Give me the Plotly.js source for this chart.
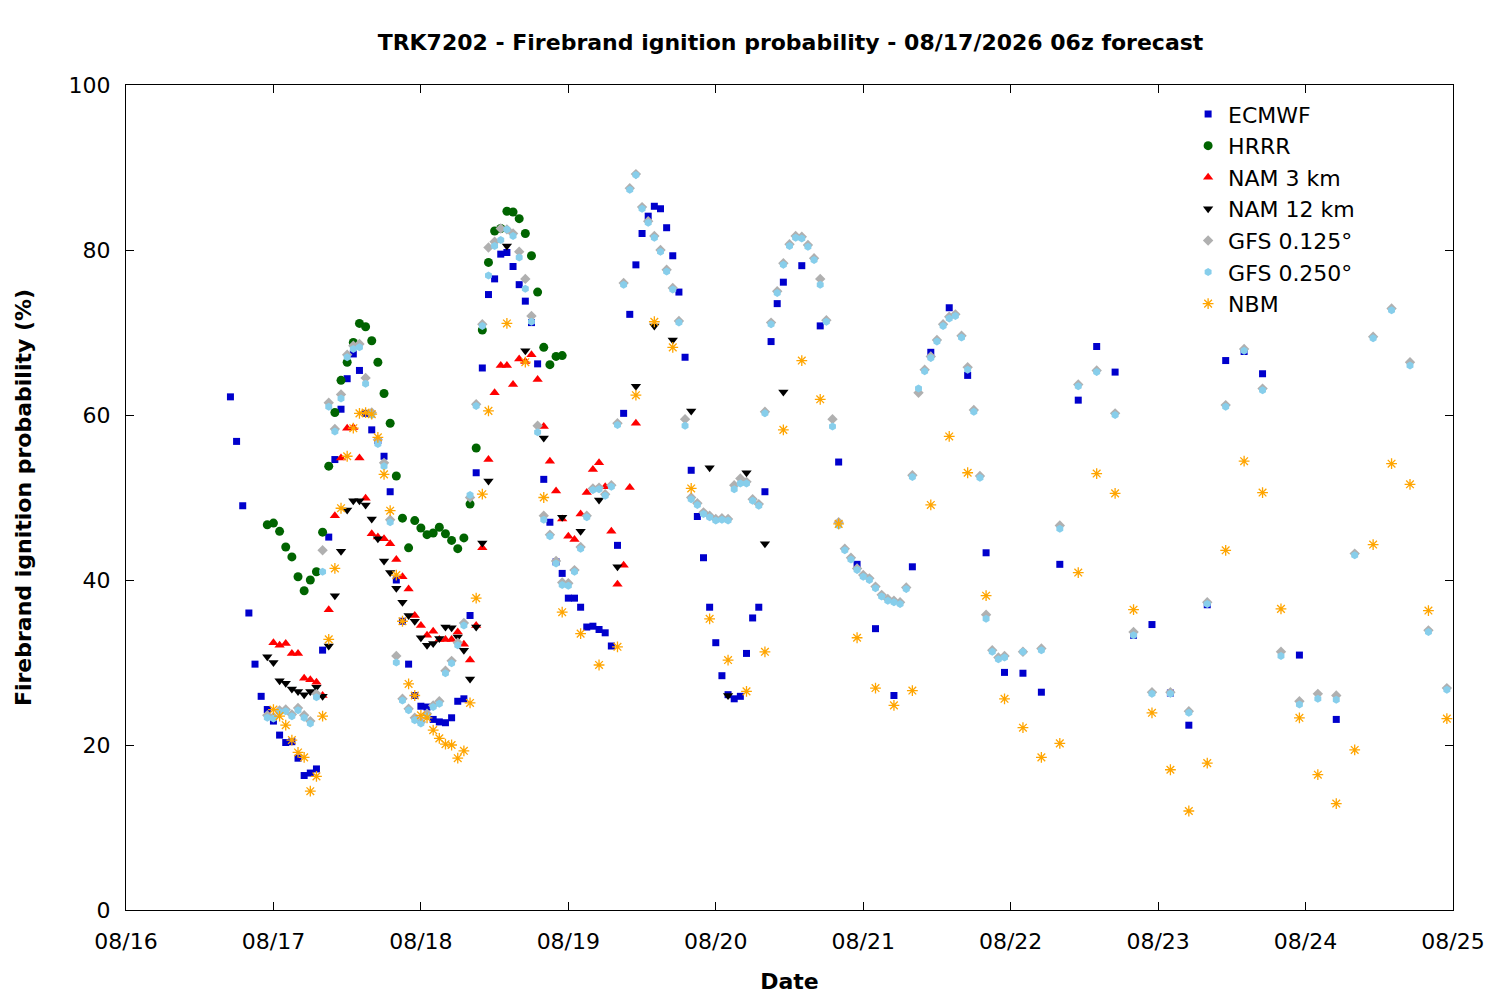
<!DOCTYPE html>
<html>
<head>
    <title>TRK7202 - Firebrand ignition probability</title>
    <script src="https://cdn.plot.ly/plotly-3.0.1.min.js"></script>
    <style>
        body { margin: 0; background: white; }
        #plot { width: 1500px; height: 1000px; }
    </style>
</head>
<body>
    <div id="plot"></div>
    <script>
        function range(a, b, step) {
            const out = [];
            for (let h = a; h <= b; h += step) out.push(h);
            return out;
        }

        // forecast hours, counted from 08/16 00:00
        const ecmwfHours = [...range(17, 107, 1), ...range(110, 185, 3), 191, 197];
        const ecmwfValues = [
            62.2, 56.8, 49, 36, 29.8, 25.9, 24.3, 22.9, 21.2, 20.3, 20.4, 18.4, 16.3, 16.6, 17.1, 31.5,
            45.2, 54.6, 60.7, 64.4, 67.4, 65.4, 60.2, 58.2, 56.9, 55, 50.7, 40, 35, 29.8, 26, 24.7,
            24.6, 23.1, 22.8, 22.7, 23.3, 25.3, 25.6, 35.7, 53, 65.7, 74.6, 76.5, 79.5, 79.7, 78, 75.8,
            73.8, 71.2, 66.2, 52.2, 47, 42.2, 40.8, 37.8, 37.8, 36.7, 34.3, 34.4, 34, 33.6, 32, 44.2,
            60.2, 72.2, 78.2, 82, 84.1, 85.3, 85, 82.7, 79.3, 74.9, 67, 53.3, 47.7, 42.7, 36.7, 32.4,
            28.4, 26.1, 25.6, 25.9, 31.1, 35.4, 36.7, 50.7, 68.9, 73.5, 76.1,
            78.1, 70.8, 54.3, 41.9, 34.1, 26, 41.6, 67.6, 73, 64.8, 43.3, 28.8, 28.7, 26.4, 41.9, 61.8,
            68.3, 65.2, 33.3, 34.6, 26.3, 22.4, 37, 66.6, 67.7, 65,
            30.9, 23.1
        ];

        const hrrrHours = range(23, 71, 1);
        const hrrrValues = [
            46.7, 46.9, 45.9, 44, 42.8, 40.4, 38.7, 40, 41, 45.8, 53.8, 60.3, 64.2, 66.4, 68.8, 71.1,
            70.7, 69, 66.4, 62.6, 59, 52.6, 47.5, 43.9, 47.2, 46.3, 45.5, 45.7, 46.4, 45.6, 44.8, 43.8,
            45.1, 49.2, 56, 70.3, 78.5, 82.3, 82.6, 84.7, 84.6, 83.8, 82, 79.3, 74.9, 68.2, 66.1, 67.1, 67.2
        ];

        const nam3Hours = range(24, 83, 1);
        const nam3Values = [
            32.4, 32.1, 32.3, 31.1, 31.1, 28.1, 27.9, 27.6, 26, 36.4, 47.8, 54.8, 58.4, 58.5, 54.8, 49.9,
            45.6, 45.2, 45, 44.4, 42.5, 40.4, 38.9, 35.7, 34.5, 33.3, 33.8, 32.8, 32.8, 32.8, 33.7, 32.2,
            30.3, 34.5, 43.9, 54.6, 62.7, 66, 66, 63.7, 66.8, 66.5, 67.3, 64.3, 58.6, 54.4, 50.8, 47.4,
            45.3, 44.9, 48, 50.6, 53.4, 54.2, 51.3, 45.9, 39.5, 41.8, 51.2, 59
        ];

        const nam12Hours = [...range(23, 59, 1), ...range(62, 107, 3)];
        const nam12Values = [
            30.7, 30, 27.8, 27.5, 26.8, 26.5, 26.1, 26.5, 27, 25.9, 32, 38.1, 43.5, 48.5, 49.6, 49.6,
            49.1, 47.4, 45, 42.3, 40.9, 39, 37.3, 35.7, 35, 33, 32.1, 32.3, 32.9, 34.3, 34.2, 33.1,
            31.5, 28, 34.3, 44.5, 52,
            80.5, 67.8, 57.2, 47.6, 45.9, 49.7, 41.6, 63.5, 70.8, 69.1, 60.5, 53.6, 26, 53, 44.4, 62.8
        ];

        const gfsHours = [...range(23, 143, 1), ...range(146, 215, 3)];
        const gfs025Values = [
            23.3, 23.2, 24, 24.1, 23.5, 24.2, 23.3, 22.6, 25.8, 41, 61, 58, 62, 67, 68, 68.2,
            63.8, 60, 56.5, 53.8, 47, 30, 25.4, 24.2, 23, 22.6, 23.5, 24.6, 25, 28.7, 29.9, 32.1,
            34.5, 50.3, 61.1, 70.8, 76.9, 80.5, 81.2, 82.5, 81.7, 79.1, 75.3, 71.3, 57.9, 47.3, 45.3, 42,
            39.4, 39.3, 41, 43.8, 47.6, 50.9, 51, 50.2, 51.3, 58.8, 75.8, 87.3, 89.1, 85, 83.3, 81.5,
            79.8, 77.4, 75.2, 71.2, 58.7, 49.8, 49.1, 48, 47.6, 47.2, 47.3, 47.2, 51, 51.7, 51.7, 49.6,
            49, 60.2, 71, 74.8, 78.2, 80.5, 81.5, 81.4, 80.4, 78.8, 75.8, 71.3, 58.6, 46.6, 43.6, 42.5,
            41.2, 40.4, 40, 39, 38, 37.5, 37.3, 37.1, 38.9, 52.5, 63.2, 65.3, 66.9, 68.9, 70.8, 71.7,
            72, 69.4, 65.5, 60.4, 52.4, 35.3, 31.3, 30.4, 30.6,
            31.3, 31.5, 46.2, 63.5, 65.2, 60, 33.3, 26.2, 26.2, 23.9, 37.1, 61, 67.8, 63, 30.8, 24.9,
            25.6, 25.5, 43, 69.3, 72.7, 66, 33.7, 26.7
        ];
        const gfs0125Values = [
            23.6, 23.4, 24.2, 24.3, 23.7, 24.5, 23.6, 22.9, 26.2, 43.6, 61.5, 58.3, 62.5, 67.3, 68.4, 68.6,
            64.5, 60.3, 57, 54.2, 47.3, 30.8, 25.6, 24.4, 23.3, 22.8, 23.8, 24.8, 25.3, 29, 30.2, 32.4,
            34.8, 50, 61.3, 71, 80.3, 81, 82.6, 82.5, 82, 79.8, 76.5, 72, 58.7, 47.8, 45.5, 42.3,
            39.7, 39.6, 41.2, 44, 47.8, 51.1, 51.2, 50.4, 51.5, 59, 76, 87.5, 89.2, 85.2, 83.5, 81.7,
            80, 77.6, 75.4, 71.4, 59.5, 50, 49.3, 48.2, 47.8, 47.4, 47.5, 47.4, 51.5, 52.3, 51.9, 49.8,
            49.2, 60.4, 71.2, 75, 78.4, 80.7, 81.7, 81.6, 80.6, 79, 76.5, 71.5, 59.5, 47, 43.8, 42.7,
            41.4, 40.6, 40.2, 39.2, 38.2, 37.7, 37.5, 37.3, 39.1, 52.7, 62.7, 65.5, 67.1, 69.1, 71, 71.9,
            72.2, 69.6, 65.8, 60.6, 52.6, 35.8, 31.5, 30.6, 30.8,
            31.3, 31.7, 46.6, 63.7, 65.4, 60.2, 33.7, 26.4, 26.4, 24.1, 37.3, 61.2, 68, 63.2, 31.3, 25.3,
            26.2, 26, 43.2, 69.5, 72.9, 66.4, 33.9, 26.9
        ];

        const nbmHours = [...range(24, 59, 1), ...range(62, 215, 3)];
        const nbmValues = [
            24.3, 23.5, 22.4, 20.6, 19.1, 18.5, 14.4, 16.2, 23.5, 32.8, 41.4, 48.7, 55, 58.4, 60.2, 60.3,
            60.1, 57.3, 52.8, 48.4, 40.6, 35, 27.4, 26, 23.6, 23.3, 21.8, 20.8, 20.1, 20, 18.4, 19.3,
            25.1, 37.8, 50.4, 60.5,
            71.1, 66.4, 50, 36.1, 33.5, 29.7, 31.9, 62.4, 71.3, 68.2, 51.1, 35.3, 30.3, 26.5, 31.3, 58.2,
            66.6, 61.9, 46.8, 33, 26.9, 24.8, 26.6, 49.1, 57.4, 53, 38.1, 25.6, 22.1, 18.5, 20.2, 40.9,
            52.9, 50.5, 36.4, 23.9, 17, 12, 17.8, 43.6, 54.4, 50.6, 36.5, 23.3, 16.4, 12.9, 19.4, 44.3,
            54.1, 51.6, 36.3, 23.2
        ];

        const dayLabels = ['08/16', '08/17', '08/18', '08/19', '08/20', '08/21', '08/22', '08/23', '08/24', '08/25'];

        function toDates(hours) {
            const base = Date.UTC(2026, 7, 16);
            return hours.map(h => new Date(base + h * 3600000).toISOString().slice(0, 19).replace('T', ' '));
        }

        function series(name, hours, values, marker) {
            const n = Math.min(hours.length, values.length);
            return {
                x: toDates(hours.slice(0, n)),
                y: values.slice(0, n),
                type: 'scatter',
                mode: 'markers',
                name: name,
                marker: marker
            };
        }

        const data = [
            series('ECMWF', ecmwfHours, ecmwfValues, {symbol: 'square', color: '#0000cc', size: 7}),
            series('HRRR', hrrrHours, hrrrValues, {symbol: 'circle', color: '#006400', size: 9}),
            series('NAM 3 km', nam3Hours, nam3Values, {symbol: 'triangle-up', color: '#ff0000', size: 9}),
            series('NAM 12 km', nam12Hours, nam12Values, {symbol: 'triangle-down', color: '#000000', size: 9}),
            series('GFS 0.125°', gfsHours, gfs0125Values, {symbol: 'diamond', color: '#b0b0b0', size: 8}),
            series('GFS 0.250°', gfsHours, gfs025Values, {symbol: 'hexagon', color: '#87ceeb', size: 8}),
            series('NBM', nbmHours, nbmValues, {symbol: 'asterisk-open', color: '#ffa500', size: 9, line: {color: '#ffa500', width: 1.3}})
        ];

        const tickVals = toDates(range(0, 216, 24));

        const layout = {
            width: 1500,
            height: 1000,
            paper_bgcolor: 'white',
            plot_bgcolor: 'white',
            font: {family: 'DejaVu Sans, sans-serif', size: 22, color: '#000'},
            title: {
                text: '<b>TRK7202 - Firebrand ignition probability - 08/17/2026 06z forecast</b>',
                font: {size: 22}, x: 0.527, xanchor: 'center', y: 0.958, yanchor: 'middle'
            },
            margin: {l: 126, r: 47, t: 85, b: 90},
            showlegend: true,
            legend: {
                x: 0.93, y: 0.99, xanchor: 'right', yanchor: 'top',
                bgcolor: 'rgba(0,0,0,0)', font: {size: 22}, tracegroupgap: 0, itemwidth: 30
            },
            xaxis: {
                type: 'date',
                range: [tickVals[0], tickVals[tickVals.length - 1]],
                tickvals: tickVals,
                ticktext: dayLabels,
                ticks: 'inside', ticklen: 8, tickcolor: '#000',
                ticklabelstandoff: 12,
                showline: true, linecolor: '#000', linewidth: 1, mirror: 'ticks',
                showgrid: false, zeroline: false,
                title: {text: '<b>Date</b>', font: {size: 22}, standoff: 20}
            },
            yaxis: {
                range: [0, 100],
                tickvals: [0, 20, 40, 60, 80, 100],
                ticks: 'inside', ticklen: 8, tickcolor: '#000',
                ticklabelstandoff: 10,
                showline: true, linecolor: '#000', linewidth: 1, mirror: 'ticks',
                showgrid: false, zeroline: false,
                title: {text: '<b>Firebrand ignition probability (%)</b>', font: {size: 22}, standoff: 30}
            }
        };

        Plotly.newPlot('plot', data, layout, {displayModeBar: false});
    </script>
</body>
</html>
